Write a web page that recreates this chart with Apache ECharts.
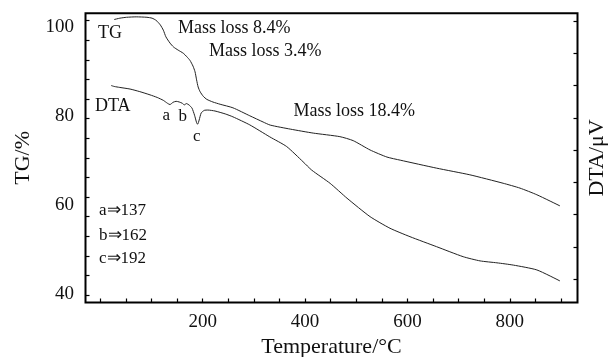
<!DOCTYPE html>
<html>
<head>
<meta charset="utf-8">
<script src="https://cdn.jsdelivr.net/npm/echarts@6/dist/echarts.min.js"></script>
<style>
  html, body { margin: 0; padding: 0; background: #fff; }
  #chart { width: 611px; height: 357px; }
</style>
</head>
<body>
<div id="chart"></div>
<script>
// TG curve (left axis, %)
var tgTemp = [27, 38, 51, 70, 91, 101, 109, 117, 123, 128, 136, 143, 152, 162, 169, 175, 181, 185, 188, 191, 195, 201, 208, 220, 234, 259, 292, 318, 332, 371, 416, 468, 494, 527, 560, 586, 657, 722, 787, 820, 853, 898]
var tgValue = [101.8, 102.1, 102.3, 102.4, 102.3, 102.1, 101.6, 100.6, 99.4, 97.9, 96.5, 95.6, 94.9, 94.2, 93.4, 92.6, 91.3, 90.0, 88.2, 86.6, 85.5, 84.5, 83.8, 83.2, 82.7, 81.9, 80.1, 78.7, 78.0, 77.1, 76.2, 75.4, 74.5, 72.4, 70.8, 70.1, 68.3, 66.8, 64.9, 63.8, 62.3, 59.8]

// DTA curve (right axis, no scale printed)
var dtaTemp = [21, 27, 38, 58, 77, 97, 111, 123, 131, 136, 142, 148, 154, 160, 164, 168, 173, 179, 184, 188, 190, 193, 197, 203, 210, 224, 244, 259, 292, 331, 364, 396, 413, 449, 482, 527, 566, 605, 657, 709, 742, 775, 807, 853, 898]
var dtaValue = [60.0, 59.7, 59.4, 58.9, 58.1, 57.1, 56.3, 55.4, 54.5, 54.1, 54.8, 55.1, 54.9, 54.5, 54.0, 54.4, 54.0, 53.0, 50.8, 48.5, 48.0, 49.3, 51.5, 52.3, 52.4, 52.1, 51.2, 50.3, 47.8, 44.1, 41.1, 36.4, 33.8, 29.7, 25.1, 19.4, 15.8, 13.2, 10.1, 7.0, 5.7, 5.1, 4.4, 2.9, -0.5]

// axes
var xTickValues = [0, 50, 100, 150, 200, 250, 300, 350, 400, 450, 500, 550, 600, 650, 700, 750, 800, 850, 900]
var xLabelValues = [200, 400, 600, 800]
var tgLabelValues = [40, 60, 80, 100]
var tgTickValues = [101.53, 97.12, 92.70, 88.28, 83.86, 79.45, 75.03, 70.61, 66.19, 61.78, 57.36, 52.95, 48.52, 44.11, 39.69]
var dtaTickValues = [0, 10, 20, 30, 40, 50, 60, 70, 80]
var peakNotes = ['a⇒137', 'b⇒162', 'c⇒192']

var serif = '"Liberation Serif", "Times New Roman", serif'

function pairs (xs, ys) {
  return xs.map(function (x, i) { return [x, ys[i]] })
}

function note (text, x, y, size) {
  return {
    type: 'text',
    x: x,
    y: y,
    style: {
      text: text,
      font: size + 'px ' + serif,
      fill: '#111',
      textVerticalAlign: 'middle'
    }
  }
}

var tickStyle = { color: '#000', width: 1.2 }

var chart = echarts.init(document.getElementById('chart'))
chart.setOption({
  animation: false,
  backgroundColor: '#fff',
  grid: {
    left: 85.5, right: 33.5, top: 13.3, bottom: 54.5,
    containLabel: false,
    outerBoundsMode: 'none',
    show: true, borderColor: '#000', borderWidth: 2
  },
  xAxis: {
    type: 'value',
    min: -29.1,
    max: 932.4,
    name: 'Temperature/°C',
    nameLocation: 'middle',
    nameGap: 31,
    nameTextStyle: { fontFamily: serif, fontSize: 22, color: '#111' },
    axisLine: { show: false, onZero: false },
    splitLine: { show: false },
    axisTick: { inside: true, length: 4, customValues: xTickValues, lineStyle: tickStyle },
    axisLabel: { customValues: xLabelValues, margin: 10, fontFamily: serif, fontSize: 19, color: '#111' }
  },
  yAxis: [{
    type: 'value',
    min: 38.02,
    max: 103.2,
    name: 'TG/%',
    nameLocation: 'middle',
    nameGap: 50,
    nameTextStyle: { fontFamily: serif, fontSize: 22, color: '#111' },
    axisLine: { show: false, onZero: false },
    splitLine: { show: false },
    axisTick: { inside: true, length: 4, customValues: tgTickValues, lineStyle: tickStyle },
    axisLabel: { customValues: tgLabelValues, margin: 11.5, fontFamily: serif, fontSize: 19, color: '#111' }
  }, {
    type: 'value',
    position: 'right',
    min: -7.18,
    max: 82.35,
    name: 'DTA/μV',
    nameLocation: 'middle',
    nameRotate: 90,
    nameGap: 9,
    nameTextStyle: { fontFamily: serif, fontSize: 22, color: '#111' },
    axisLine: { show: false, onZero: false },
    splitLine: { show: false },
    axisTick: { inside: true, length: 4, customValues: dtaTickValues, lineStyle: tickStyle },
    axisLabel: { show: false }
  }],
  series: [{
    name: 'TG',
    type: 'line',
    yAxisIndex: 0,
    data: pairs(tgTemp, tgValue),
    showSymbol: false,
    smooth: 0.2,
    lineStyle: { color: '#222', width: 1 }
  }, {
    name: 'DTA',
    type: 'line',
    yAxisIndex: 1,
    data: pairs(dtaTemp, dtaValue),
    showSymbol: false,
    smooth: 0.2,
    lineStyle: { color: '#222', width: 1 }
  }],
  graphic: [
    note('TG', 98, 33, 18),
    note('DTA', 95, 106, 18),
    note('Mass loss 8.4%', 178, 28.7, 18),
    note('Mass loss 3.4%', 209, 51, 18),
    note('Mass loss 18.4%', 293.5, 111, 18),
    note('a', 162.5, 115.6, 17),
    note('b', 178.5, 116.3, 17),
    note('c', 193, 136.3, 17),
    note(peakNotes[0], 99, 211, 17),
    note(peakNotes[1], 99, 235.5, 17),
    note(peakNotes[2], 99, 259, 17)
  ]
})
</script>
</body>
</html>
